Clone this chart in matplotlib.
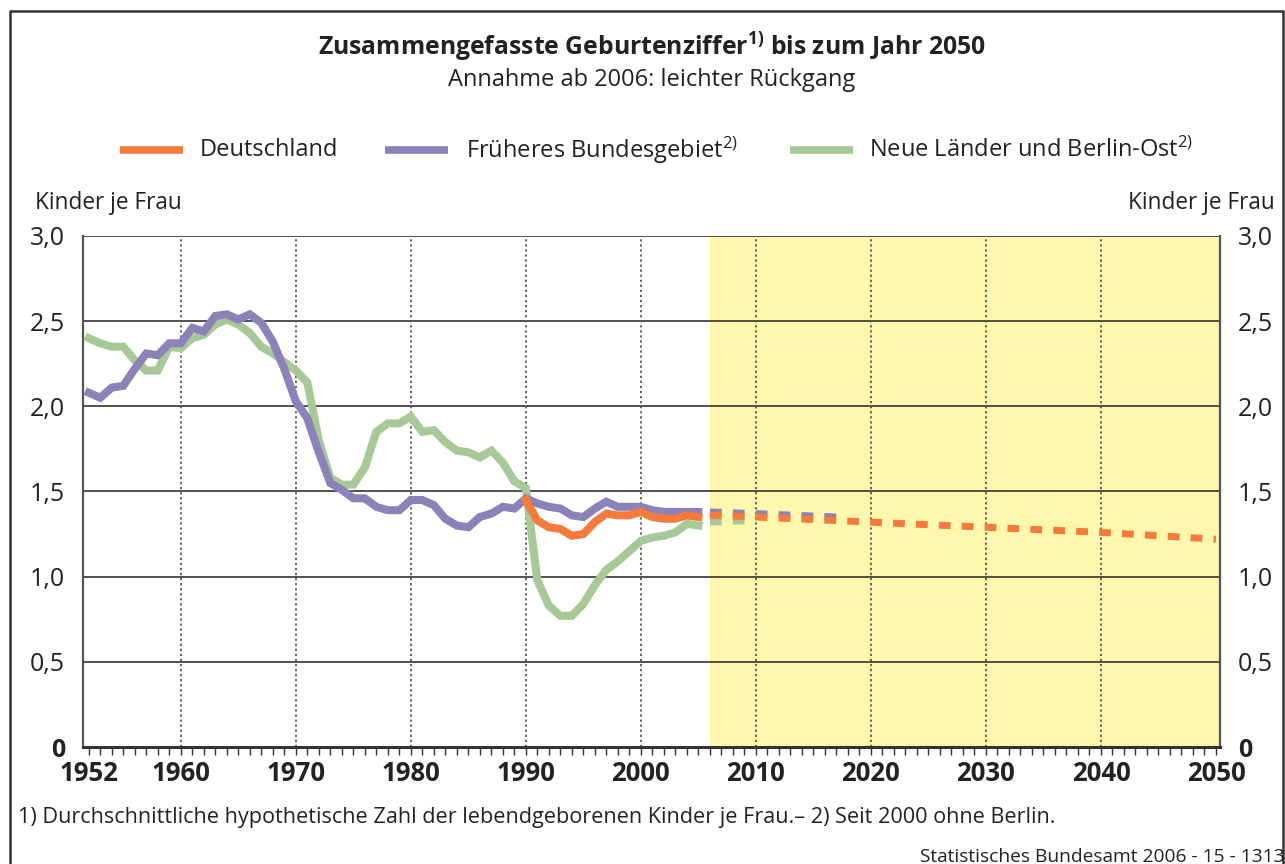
import numpy as np
import matplotlib.pyplot as plt
from matplotlib.lines import Line2D

plt.rcParams['font.family'] = ['Open Sans', 'DejaVu Sans']
plt.rcParams['mathtext.default'] = 'regular'

# Früheres Bundesgebiet 1952-2005
west_years = list(range(1952, 2006))
west = [2.08, 2.05, 2.11, 2.12, 2.22, 2.31, 2.30, 2.37, 2.37, 2.46,
        2.44, 2.53, 2.54, 2.51, 2.54, 2.49, 2.38, 2.22, 2.03, 1.93,
        1.73, 1.55, 1.51, 1.46, 1.46, 1.41, 1.39, 1.39, 1.45, 1.45,
        1.42, 1.34, 1.30, 1.29, 1.35, 1.37, 1.41, 1.40, 1.46, 1.43,
        1.41, 1.40, 1.36, 1.35, 1.40, 1.44, 1.41, 1.41, 1.41, 1.39,
        1.38, 1.38, 1.38, 1.38]

# Neue Länder und Berlin-Ost 1952-2005
east_years = list(range(1952, 2006))
east = [2.40, 2.37, 2.35, 2.35, 2.27, 2.21, 2.21, 2.35, 2.34, 2.40,
        2.42, 2.48, 2.51, 2.48, 2.43, 2.35, 2.31, 2.26, 2.21, 2.14,
        1.80, 1.58, 1.54, 1.54, 1.64, 1.85, 1.90, 1.90, 1.94, 1.85,
        1.86, 1.79, 1.74, 1.73, 1.70, 1.74, 1.67, 1.56, 1.52, 0.98,
        0.83, 0.77, 0.77, 0.84, 0.95, 1.04, 1.09, 1.15, 1.21, 1.23,
        1.24, 1.26, 1.31, 1.30]

# Deutschland 1990-2005
de_years = list(range(1990, 2006))
de = [1.45, 1.33, 1.29, 1.28, 1.24, 1.25, 1.32, 1.37, 1.36, 1.36,
      1.38, 1.35, 1.34, 1.34, 1.36, 1.35]

# Annahme ab 2006
proj_years = [2006, 2010, 2020, 2030, 2040, 2050]
proj_de = [1.36, 1.35, 1.32, 1.29, 1.26, 1.22]
proj_west_years = [2006, 2010, 2017]
proj_west = [1.38, 1.37, 1.35]
proj_east_years = [2006, 2010]
proj_east = [1.32, 1.33]

c_de = '#f47b3c'
c_west = '#8c82b9'
c_east = '#a7c897'

fig = plt.figure(figsize=(12.85, 8.64), dpi=100)
ax = fig.add_axes([0.0646, 0.1354, 0.8848, 0.5915])

ax.axvspan(2006, 2051, color='#fff7ad', zorder=0, lw=0)

for y in [0.5, 1.0, 1.5, 2.0, 2.5, 3.0]:
    ax.axhline(y, color='#222222', lw=1.1, zorder=1)
for x in range(1960, 2050, 10):
    ax.axvline(x, color='#555555', lw=1.3, ls=(0, (1.2, 1.6)), zorder=1)

lw = 5.8
ax.plot(east_years, east, color=c_east, lw=lw, solid_joinstyle='miter', zorder=3)
ax.plot(west_years, west, color=c_west, lw=lw, solid_joinstyle='miter', zorder=4)
ax.plot(de_years, de, color=c_de, lw=lw, solid_joinstyle='miter', zorder=5)

dash = (0, (1.7, 1.6))
ax.plot(proj_east_years, proj_east, color=c_east, lw=5, ls=dash, dash_capstyle='butt', zorder=3)
ax.plot(proj_west_years, proj_west, color=c_west, lw=5, ls=dash, dash_capstyle='butt', zorder=4)
ax.plot(proj_years, proj_de, color=c_de, lw=5, ls=dash, dash_capstyle='butt', zorder=5)

ax.set_xlim(1951.5, 2050.35)
ax.set_ylim(0, 3.0)

ax.set_xticks([1952, 1960, 1970, 1980, 1990, 2000, 2010, 2020, 2030, 2040, 2050])
ax.set_xticklabels(['1952', '1960', '1970', '1980', '1990', '2000', '2010',
                    '2020', '2030', '2040', '2050'], fontsize=18.5, fontweight='bold',
                   color='#222222')
ax.set_xticks(range(1952, 2051), minor=True)
ax.tick_params(axis='x', which='both', direction='out', length=6, width=1,
               color='#333333', pad=3)

yt = [0, 0.5, 1.0, 1.5, 2.0, 2.5, 3.0]
ylabels = ['0', '0,5', '1,0', '1,5', '2,0', '2,5', '3,0']
ax.set_yticks(yt)
ax.set_yticklabels(ylabels, fontsize=18, color='#222222')
ax.tick_params(axis='y', length=0, pad=13, labelright=True, right=False)
for t in ax.yaxis.get_major_ticks():
    t.label2.set_fontsize(18)
    t.label2.set_color('#222222')
    if t.label1.get_text() == '0':
        t.label1.set_fontweight('bold')
        t.label2.set_fontweight('bold')

ax.spines['top'].set_visible(False)
ax.spines['left'].set_color('#555555')
ax.spines['right'].set_color('#555555')
ax.spines['left'].set_linewidth(1.6)
ax.spines['right'].set_linewidth(1.6)
ax.spines['bottom'].set_color('#333333')
ax.spines['bottom'].set_linewidth(2.2)

# titles
fig.text(0.507, 0.945, r'Zusammengefasste Geburtenziffer$^{1)}$ bis zum Jahr 2050',
         ha='center', va='center', fontsize=17.8, fontweight='bold', color='#222222')
fig.text(0.507, 0.907, 'Annahme ab 2006: leichter Rückgang', ha='center',
         va='center', fontsize=17, color='#222222')

# legend
def leg(x0, x1, xt, color, label):
    y = 1 - 150 / 864
    fig.add_artist(Line2D([x0 / 1285, x1 / 1285], [y, y], color=color, lw=5.5,
                          solid_capstyle='butt'))
    fig.text(xt / 1285, y, label, ha='left', va='center', fontsize=17, color='#222222')

leg(120, 183, 200, c_de, 'Deutschland')
leg(385, 448, 466, c_west, r'Früheres Bundesgebiet$^{2)}$')
leg(790, 853, 869, c_east, r'Neue Länder und Berlin-Ost$^{2)}$')

fig.text(35 / 1285, 1 - 203 / 864, 'Kinder je Frau', ha='left', va='center',
         fontsize=16.3, color='#222222')
fig.text(1275 / 1285, 1 - 203 / 864, 'Kinder je Frau', ha='right', va='center',
         fontsize=16.3, color='#222222')

fig.text(18 / 1285, 1 - 817 / 864,
         '1) Durchschnittliche hypothetische Zahl der lebendgeborenen Kinder je Frau.– 2) Seit 2000 ohne Berlin.',
         ha='left', va='center', fontsize=15.6, color='#222222')
fig.text(1285 / 1285, 1 - 857 / 864, 'Statistisches Bundesamt 2006 - 15 - 1313',
         ha='right', va='center', fontsize=13.8, color='#222222')

# frame
fx0, fy0, fx1 = 10 / 1285, 1 - 11 / 864, 1283 / 1285
fig.add_artist(Line2D([fx0, fx0, fx1, fx1], [0, fy0, fy0, 0], color='#333333', lw=1.8))

fig.savefig('out.png', dpi=100)
